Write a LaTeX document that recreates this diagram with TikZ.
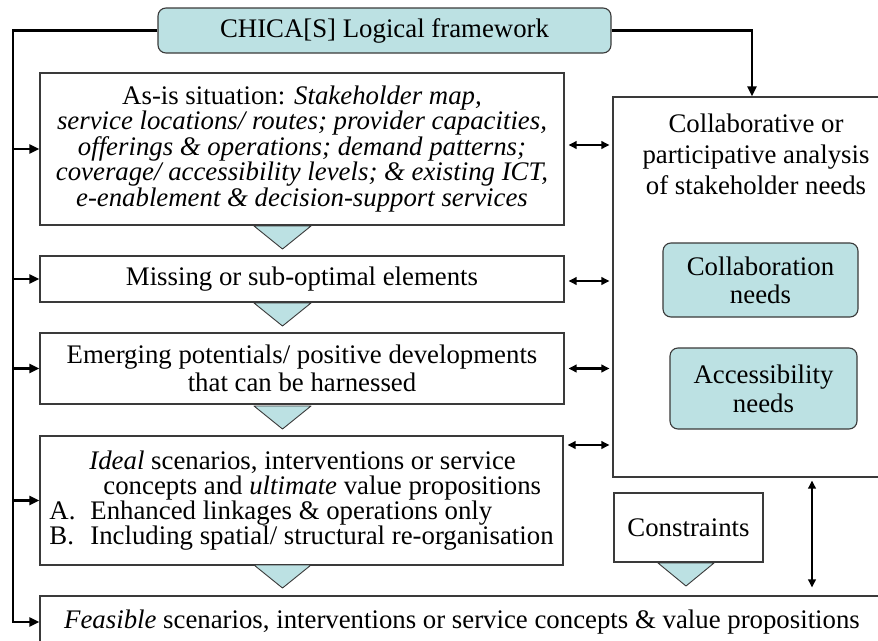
\documentclass[tikz,border=0pt]{standalone}
\usepackage{fontspec}
\setmainfont{Liberation Serif}
\usetikzlibrary{arrows.meta,calc}
\definecolor{tuerkis}{HTML}{BCE1E3}
\definecolor{rand}{HTML}{3A3A3A}
\tikzset{
  kasten/.style={draw=rand,line width=1.1pt,fill=white,align=center,inner sep=0pt},
  rkasten/.style={kasten,fill=tuerkis,rounded corners=8pt},
  keil/.style={fill=tuerkis,draw=rand,line width=0.9pt,line join=round},
  leitung/.style={black,line width=2.4pt},
  pfeil/.style={leitung,-{Triangle[length=10pt,width=9pt]}},
  doppel/.style={black,line width=2.2pt,{Triangle[length=8pt,width=7.5pt]}-{Triangle[length=8pt,width=7.5pt]}},
}

\begin{document}
\begin{tikzpicture}[x=1pt,y=-1pt,font=\fontsize{26.8}{24}\selectfont]
  \useasboundingbox (0,0) rectangle (878,640);
  \clip (0,0) rectangle (878,640);
  % --- Kopf ---
  \node[rkasten,minimum width=453pt,minimum height=45pt] (rahmen) at (384.5,30.5) {CHICA[S] Logical framework};
  % --- Schritte links ---
  \node[kasten,minimum width=524pt,minimum height=152pt] (istzustand) at (302,149)
    {As-is situation: \textit{Stakeholder map,}\\
     \textit{service locations/ routes; provider capacities,}\\
     \textit{offerings \& operations; demand patterns;}\\
     \textit{coverage/ accessibility levels; \& existing ICT,}\\
     \textit{e-enablement \& decision-support services}};
  \node[kasten,minimum width=524pt,minimum height=46pt] (defizite) at (302,279) {Missing or sub-optimal elements};
  \node[kasten,minimum width=524pt,minimum height=71pt,font=\fontsize{26.8}{28}\selectfont] (potenziale) at (302,368.5)
    {Emerging potentials/ positive developments\\that can be harnessed};
  \node[kasten,minimum width=523pt,minimum height=129pt,align=left,font=\fontsize{26.8}{25}\selectfont] (ideal) at (301.5,500.5)
    {\hspace*{40pt}\textit{Ideal} scenarios, interventions or service\\
     \hspace*{54pt}concepts and \textit{ultimate} value propositions\\
     \makebox[41pt][l]{A.}Enhanced linkages \& operations only\\
     \makebox[41pt][l]{B.}Including spatial/ structural re-organisation};
  \node[kasten,minimum width=844pt,minimum height=52pt] (machbar) at (462,622)
    {\textit{Feasible} scenarios, interventions or service concepts \& value propositions};
  % --- Beduerfnisse rechts ---
  \node[kasten,minimum width=278pt,minimum height=380pt] (analyse) at (752,287) {};
  \node[align=center,font=\fontsize{26.8}{31}\selectfont] (analysetext) at (756,154)
    {Collaborative or\\participative analysis\\of stakeholder needs};
  \node[rkasten,minimum width=195pt,minimum height=74pt,font=\fontsize{26.8}{28}\selectfont] (kollab) at (760.5,280) {Collaboration\\needs};
  \node[rkasten,minimum width=187pt,minimum height=81pt,font=\fontsize{26.8}{29}\selectfont] (zugang) at (763.5,388.5) {Accessibility\\needs};
  \node[kasten,minimum width=149pt,minimum height=69pt] (grenzen) at (688.5,527.5) {Constraints};
  % --- Keile ---
  \foreach \y in {226,303,406,565}
    \draw[keil] (254,\y)--(311,\y)--(282.5,\y+23)--cycle;
  \draw[keil] (658,563)--(714,563)--(686,586)--cycle;
  % --- Verbindungen ---
  \coordinate (bus) at (13,0);
  \coordinate (senkrecht) at (812,0);
  \draw[pfeil] (rahmen.west) -| (bus |- machbar.west) -- (machbar.west);
  \foreach \n in {istzustand,defizite,potenziale,ideal}
    \draw[pfeil] (bus |- \n.west) -- (\n.west);
  \draw[pfeil] (rahmen.east) -| (analyse.north);
  \foreach \n/\dy in {istzustand/-4,defizite/2,potenziale/0,ideal/-55.5}
    \draw[doppel] ($(\n.east)+(4,\dy)$) -- ($(\n.east -| analyse.west)+(-3,\dy)$);
  \draw[doppel] ($(analyse.south -| senkrecht)+(0,3)$) -- ($(machbar.north -| senkrecht)+(0,-8)$);
\end{tikzpicture}
\end{document}
